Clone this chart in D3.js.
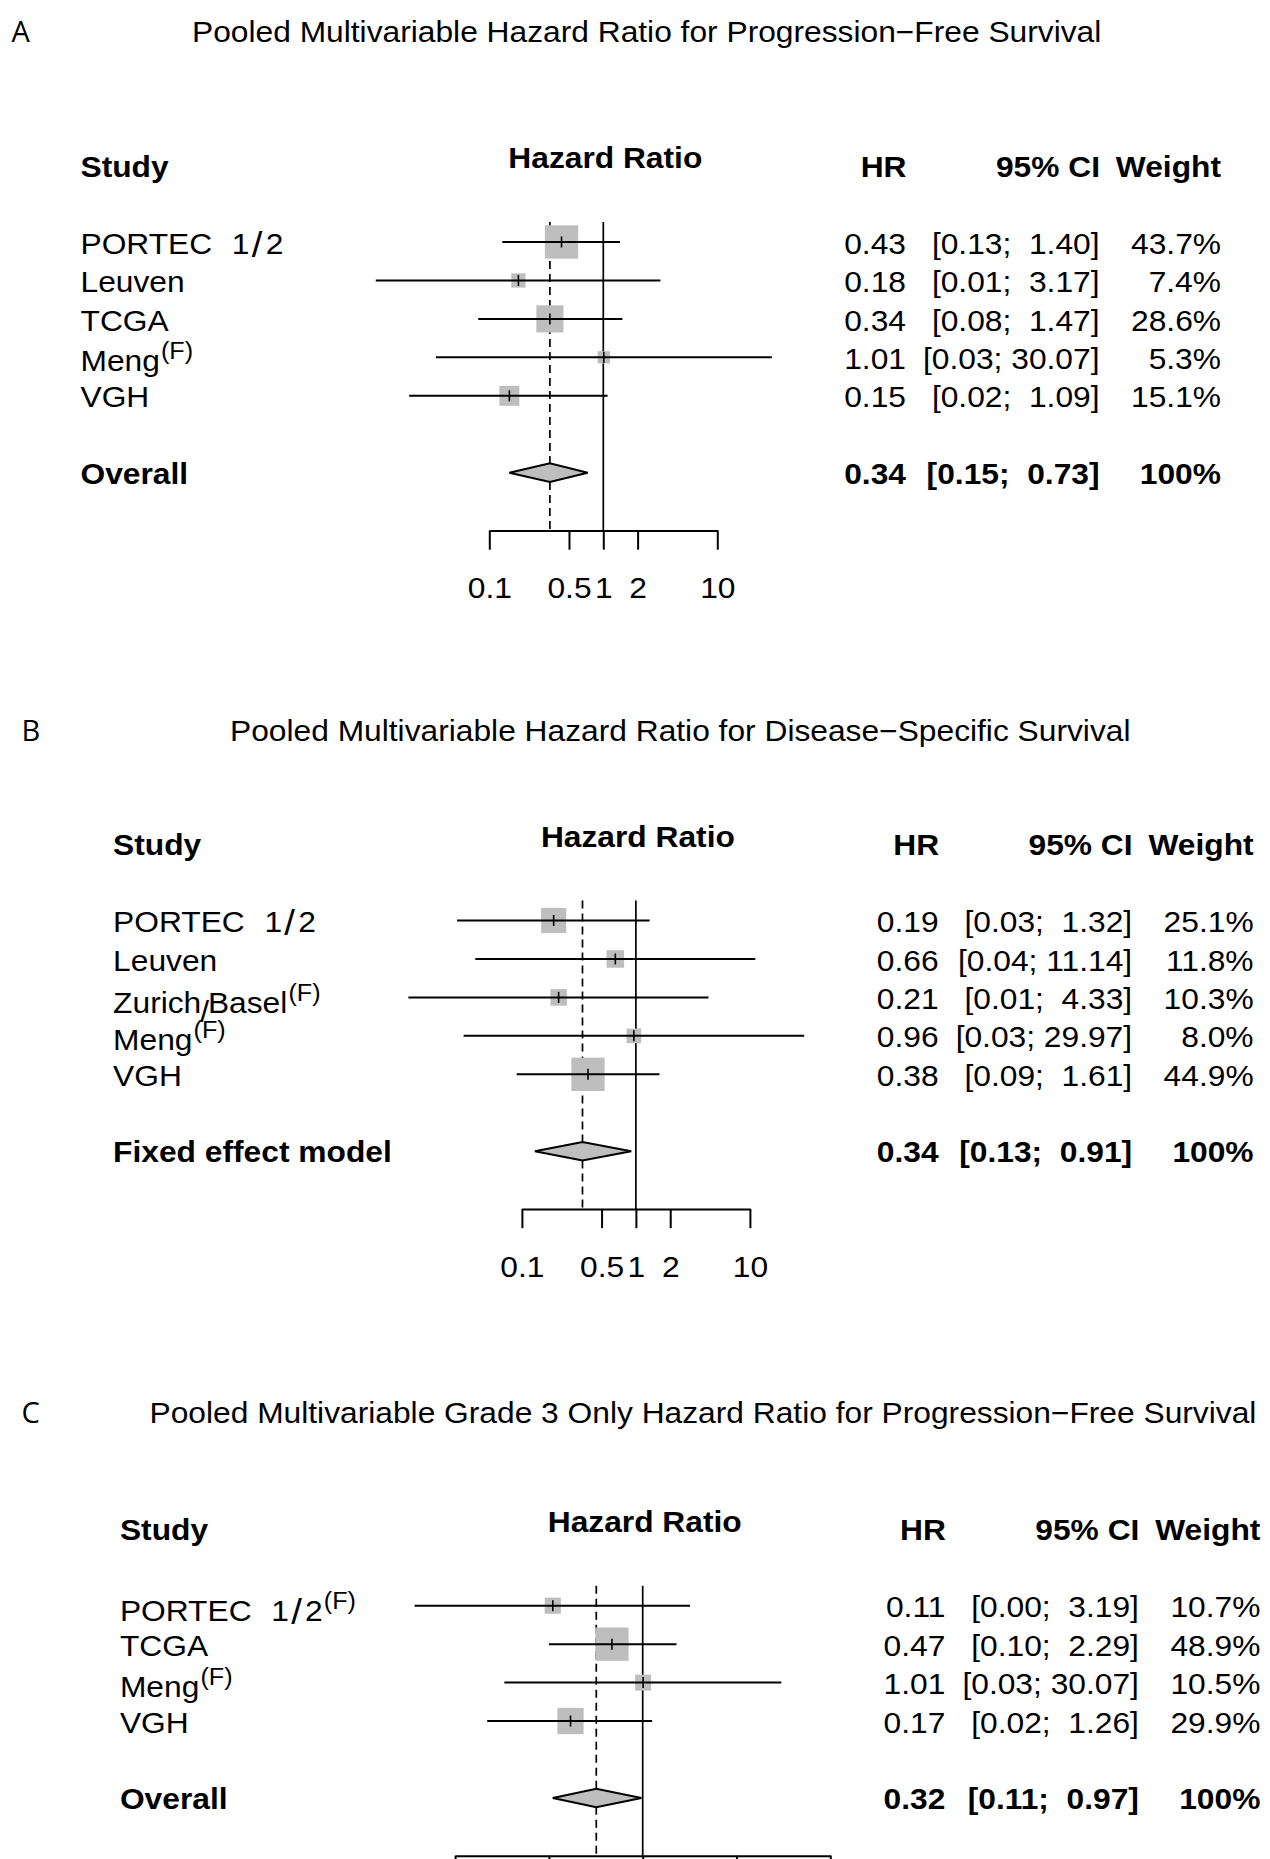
<!DOCTYPE html>
<html><head><meta charset="utf-8">
<script src="https://cdn.jsdelivr.net/npm/d3@7"></script>
<style>
body{margin:0;background:#fff}
svg{display:block;background:#fff}
text{font-family:"Liberation Sans",Arial,Helvetica,sans-serif;white-space:pre;fill:#000}
</style></head><body>
<svg id="chart" width="1270" height="1859"></svg>
<script>
// ---------- DATA ----------
const panelLetters = ["A", "B", "C"];
const titles = [
  "Pooled Multivariable Hazard Ratio for Progression\u2212Free Survival",
  "Pooled Multivariable Hazard Ratio for Disease\u2212Specific Survival",
  "Pooled Multivariable Grade 3 Only Hazard Ratio for Progression\u2212Free Survival"
];

// Panel A
const studiesA = ["PORTEC 1/2", "Leuven", "TCGA", "Meng", "VGH"];
const supA     = [false, false, false, true, false];
const hrA      = [0.43, 0.18, 0.34, 1.01, 0.15];
const lowerA   = [0.13, 0.0101, 0.08, 0.034, 0.0198];
const upperA   = [1.40, 3.17, 1.47, 30.07, 1.09];
const weightA  = [43.7, 7.4, 28.6, 5.3, 15.1];
const pooledLabelA = "Overall";
const pooledA  = [0.34, 0.15, 0.73];

// Panel B
const studiesB = ["PORTEC 1/2", "Leuven", "Zurich/Basel", "Meng", "VGH"];
const supB     = [false, false, true, true, false];
const hrB      = [0.19, 0.66, 0.21, 0.96, 0.38];
const lowerB   = [0.027, 0.039, 0.0101, 0.0308, 0.09];
const upperB   = [1.32, 11.14, 4.33, 29.97, 1.61];
const weightB  = [25.1, 11.8, 10.3, 8.0, 44.9];
const pooledLabelB = "Fixed effect model";
const pooledB  = [0.34, 0.13, 0.91];

// Panel C
const studiesC = ["PORTEC 1/2", "TCGA", "Meng", "VGH"];
const supC     = [true, false, true, false];
const hrC      = [0.11, 0.47, 1.01, 0.17];
const lowerC   = [0.0037, 0.10, 0.0335, 0.022];
const upperC   = [3.19, 2.29, 30.07, 1.26];
const weightC  = [10.7, 48.9, 10.5, 29.9];
const pooledLabelC = "Overall";
const pooledC  = [0.32, 0.11, 0.97];

// Tick labels
const ticksAB = [0.1, 0.5, 1, 2, 10];
const ticksC  = [0.01, 0.1, 1, 10, 100];

// ---------- DRAWING ----------
const svg = d3.select("#chart");
const SX = 1.095;          // horizontal stretch of the original raster text
const FS = 29;
const rowY = d3.scaleLinear().domain([0, 1]).range([242, 280.45]);

function addText(g, x, y, str, anchor, weight, size) {
  return g.append("text")
    .attr("xml:space", "preserve")
    .attr("transform", `translate(${x},${y}) scale(${SX},1)`)
    .attr("text-anchor", anchor || "start")
    .attr("font-weight", weight || "normal")
    .attr("font-size", size || FS)
    .text(str);
}

function addLabel(g, x, y, label, sup) {
  const t = g.append("text")
    .attr("xml:space", "preserve")
    .attr("transform", `translate(${x},${y}) scale(${SX},1)`)
    .attr("font-size", FS);
  const words = label.split(" ");
  words.forEach((w, wi) => {
    const parts = w.split("/");
    parts.forEach((p, pi) => {
      if (pi > 0) {
        const numeric = /^\d+$/.test(p);
        if (numeric) {
          t.append("tspan").attr("dx", 2).attr("dy", 3).attr("font-size", 35).text("/");
          t.append("tspan").attr("dx", 3).attr("dy", -3).text(p);
        } else {
          t.append("tspan").attr("dx", -1).attr("dy", 9).text("/");
          t.append("tspan").attr("dx", -1).attr("dy", -9).text(p);
        }
      } else {
        const ts = t.append("tspan").text(p);
        if (wi > 0) ts.attr("dx", 18);
      }
    });
  });
  if (sup) {
    t.append("tspan").attr("dx", 1).attr("dy", -12).attr("font-size", 23).text("(F)");
  }
  return t;
}

function fmt(v) { return v.toFixed(2); }
function ciStr(lo, hi) {
  const u = fmt(hi);
  return "[" + fmt(lo) + ";" + " ".repeat(6 - u.length) + u + "]";
}

function drawPanel(p) {
  const g = svg.append("g").attr("transform", `translate(${p.dx},${p.dy})`);
  const x = d3.scaleLog().domain(p.domain).range(p.range);
  const n = p.studies.length;
  const idx = d3.range(n);
  const yPooled = rowY(n + 1);
  const top = rowY(0) - 20;
  const axisY = rowY(n + 2.5);
  const size = d3.scaleSqrt().domain([0, d3.max(p.weights)]).range([0, 32.3]);
  const hdrY = rowY(-2) + 11.6;

  // headers
  addText(g, 80.5, hdrY, "Study", "start", "bold");
  addText(g, x(1) + 2, rowY(-2) + 3.3, "Hazard Ratio", "middle", "bold");
  addText(g, 906.5, hdrY, "HR", "end", "bold");
  addText(g, 1100, hdrY, "95% CI", "end", "bold");
  addText(g, 1221, hdrY, "Weight", "end", "bold");

  // reference line at 1 and pooled dashed line
  g.append("line").attr("x1", x(1)).attr("x2", x(1)).attr("y1", top).attr("y2", axisY)
    .attr("stroke", "#000").attr("stroke-width", 1.7);
  g.append("line").attr("x1", x(p.pooled[0])).attr("x2", x(p.pooled[0]))
    .attr("y1", top).attr("y2", axisY)
    .attr("stroke", "#000").attr("stroke-width", 1.7).attr("stroke-dasharray", "8,5");

  // boxes
  g.selectAll("rect.box").data(idx).join("rect").attr("class", "box")
    .attr("x", i => x(p.hr[i]) - size(p.weights[i]) / 2 - 0.5)
    .attr("y", i => rowY(i) - size(p.weights[i]) / 2 - 0.5)
    .attr("width", i => size(p.weights[i]) + 1)
    .attr("height", i => size(p.weights[i]) + 1)
    .attr("fill", "#bebebe");
  // CI lines
  g.selectAll("line.ci").data(idx).join("line").attr("class", "ci")
    .attr("x1", i => x(p.lower[i])).attr("x2", i => x(p.upper[i]))
    .attr("y1", i => rowY(i)).attr("y2", i => rowY(i))
    .attr("stroke", "#000").attr("stroke-width", 2);
  // estimate tick
  g.selectAll("line.est").data(idx).join("line").attr("class", "est")
    .attr("x1", i => x(p.hr[i])).attr("x2", i => x(p.hr[i]))
    .attr("y1", i => rowY(i) - 5.5).attr("y2", i => rowY(i) + 5.5)
    .attr("stroke", "#000").attr("stroke-width", 1.6);

  // diamond
  const pd = p.pooled;
  g.append("path")
    .attr("d", d3.line()([[x(pd[1]), yPooled], [x(pd[0]), yPooled - 9.3],
                          [x(pd[2]), yPooled], [x(pd[0]), yPooled + 9.3]]) + "Z")
    .attr("fill", "#bebebe").attr("stroke", "#000").attr("stroke-width", 2)
    .attr("stroke-linejoin", "miter");

  // row text
  idx.forEach(i => {
    const y = rowY(i);
    const hasSlash = p.studies[i].includes("/");
    const off = 11.6 + (p.sup[i] ? 2.5 : 0) + (p.sup[i] && hasSlash ? 1.5 : 0);
    addLabel(g, 80.5, y + off, p.studies[i], p.sup[i]);
    addText(g, 906, y + 11.6, fmt(p.hr[i]), "end");
    addText(g, 1099.5, y + 11.6, ciStr(p.lower[i], p.upper[i]), "end");
    addText(g, 1221, y + 11.6, p.weights[i].toFixed(1) + "%", "end");
  });
  // pooled text
  addText(g, 80.5, yPooled + 11, p.pooledLabel, "start", "bold");
  addText(g, 906, yPooled + 11, fmt(pd[0]), "end", "bold");
  addText(g, 1099.5, yPooled + 11, ciStr(pd[1], pd[2]), "end", "bold");
  addText(g, 1221, yPooled + 11, "100%", "end", "bold");

  // axis
  const axis = d3.axisBottom(x).tickValues(p.ticks).tickFormat(d => String(d))
    .tickSizeInner(19.3).tickSizeOuter(0).tickPadding(28);
  const ag = g.append("g").attr("transform", `translate(0,${axisY})`).call(axis);
  ag.attr("font-size", FS).attr("font-family", null);
  ag.select(".domain").attr("stroke", "#000").attr("stroke-width", 2);
  ag.selectAll(".tick line").attr("stroke", "#000").attr("stroke-width", 2);
  ag.selectAll(".tick text").attr("fill", "#000")
    .attr("transform", `scale(${SX},1)`);
}

// titles & panel letters
const titleX = [192, 230, 149.5];
const titleY = [41.7, 741, 1423.3];
const letterX = [11.5, 21.5, 21.6];
titles.forEach((t, i) => {
  addText(svg, titleX[i], titleY[i], t, "start");
  svg.append("text").attr("x", letterX[i]).attr("y", titleY[i])
    .attr("font-family", "'Open Sans', 'Noto Sans', sans-serif")
    .attr("font-size", 29).style("font-family", "'Open Sans','Noto Sans',sans-serif")
    .text(panelLetters[i]);
});

drawPanel({dx: 0, dy: 0, domain: [0.1, 10], range: [489.3, 717.3], ticks: ticksAB,
  studies: studiesA, sup: supA, hr: hrA, lower: lowerA, upper: upperA, weights: weightA,
  pooledLabel: pooledLabelA, pooled: pooledA});
drawPanel({dx: 32.6, dy: 678.5, domain: [0.1, 10], range: [489.3, 717.3], ticks: ticksAB,
  studies: studiesB, sup: supB, hr: hrB, lower: lowerB, upper: upperB, weights: weightB,
  pooledLabel: pooledLabelB, pooled: pooledB});
drawPanel({dx: 39.4, dy: 1363.7, domain: [0.01, 100], range: [415.7, 790.9], ticks: ticksC,
  studies: studiesC, sup: supC, hr: hrC, lower: lowerC, upper: upperC, weights: weightC,
  pooledLabel: pooledLabelC, pooled: pooledC});
</script>
</body></html>
